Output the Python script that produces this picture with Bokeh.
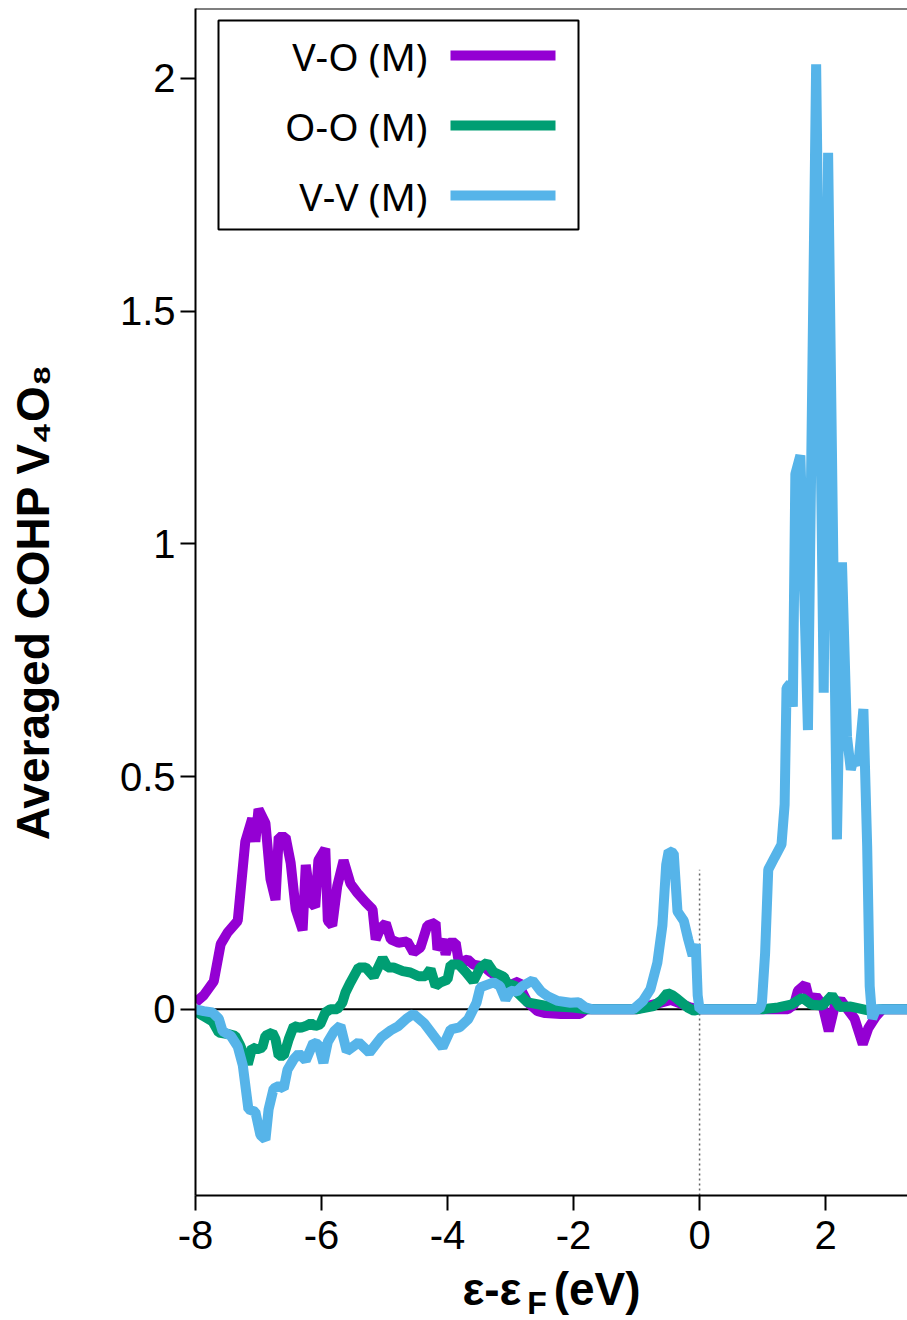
from bokeh.plotting import figure
from bokeh.models import Range1d, FixedTicker, Span, Label, BoxAnnotation, LinearAxis
from bokeh.embed import file_html
from bokeh.resources import INLINE

# ---------------- data ----------------
e_vo = [-8.0, -7.87, -7.71, -7.6, -7.49, -7.33, -7.21, -7.1, -7.05, -7.0, -6.89, -6.81,
        -6.73, -6.68, -6.57, -6.49, -6.41, -6.3, -6.25, -6.17, -6.1, -6.05, -5.94, -5.9,
        -5.83, -5.75, -5.65, -5.54, -5.43, -5.3, -5.19, -5.14, -5.06, -4.98, -4.9, -4.78,
        -4.64, -4.54, -4.43, -4.32, -4.19, -4.16, -4.08, -4.03, -3.98, -3.87, -3.82, -3.68,
        -3.59, -3.43, -3.32, -3.21, -3.11, -3.05, -2.87, -2.81, -2.73, -2.57, -2.45, -2.2,
        -1.9, -1.8, -1.0, -0.8, -0.6, -0.45, -0.3, -0.15, 0.0, 1.0, 1.4, 1.5, 1.56, 1.68,
        1.75, 1.85, 1.95, 2.05, 2.15, 2.24, 2.32, 2.46, 2.59, 2.68, 2.8, 2.9, 3.3]
cohp_vo = [0.015, 0.03, 0.06, 0.14, 0.165, 0.19, 0.36, 0.41, 0.36, 0.43, 0.40, 0.28,
           0.235, 0.37, 0.37, 0.315, 0.215, 0.17, 0.31, 0.23, 0.22, 0.32, 0.345, 0.19,
           0.18, 0.265, 0.32, 0.27, 0.25, 0.23, 0.215, 0.15, 0.175, 0.185, 0.15, 0.143,
           0.146, 0.122, 0.133, 0.18, 0.186, 0.128, 0.15, 0.118, 0.143, 0.143, 0.10, 0.107,
           0.096, 0.092, 0.08, 0.07, 0.07, 0.05, 0.06, 0.036, 0.015, -0.004, -0.008, -0.01,
           -0.01, 0.0, 0.0, 0.008, 0.015, 0.02, 0.012, 0.004, 0.0, 0.0, 0.0, 0.01, 0.04, 0.054,
           0.017, 0.028, 0.01, -0.047, 0.01, 0.02, 0.005, -0.02, -0.075, -0.04, -0.015, 0.0, 0.0]

e_oo = [-8.0, -7.87, -7.73, -7.63, -7.49, -7.37, -7.29, -7.17, -7.1, -7.02, -6.94, -6.89,
        -6.78, -6.73, -6.68, -6.6, -6.52, -6.44, -6.33, -6.25, -6.17, -6.1, -6.02, -5.94,
        -5.86, -5.75, -5.67, -5.62, -5.54, -5.41, -5.3, -5.17, -5.03, -4.95, -4.86, -4.71,
        -4.59, -4.46, -4.35, -4.27, -4.19, -4.11, -4.0, -3.95, -3.82, -3.71, -3.59, -3.48,
        -3.37, -3.27, -3.11, -3.03, -2.95, -2.89, -2.73, -2.41, -2.0, -1.8, -1.0, -0.73,
        -0.6, -0.51, -0.43, -0.35, -0.19, -0.09, 0.0, 1.0, 1.25, 1.45, 1.63, 1.78, 1.95,
        2.1, 2.22, 2.4, 2.6, 2.73, 2.85, 3.3]
cohp_oo = [-0.004, -0.015, -0.026, -0.05, -0.053, -0.057, -0.078, -0.118, -0.082, -0.086,
           -0.082, -0.057, -0.05, -0.064, -0.10, -0.10, -0.064, -0.036, -0.04, -0.036, -0.03,
           -0.036, -0.032, -0.007, 0.0, 0.0, 0.014, 0.036, 0.058, 0.09, 0.09, 0.07, 0.11,
           0.09, 0.09, 0.082, 0.079, 0.071, 0.071, 0.086, 0.05, 0.058, 0.064, 0.096, 0.096,
           0.08, 0.06, 0.09, 0.10, 0.08, 0.07, 0.05, 0.054, 0.036, 0.015, 0.007, 0.004, 0.0,
           0.0, 0.007, 0.02, 0.035, 0.03, 0.022, 0.004, -0.003, 0.0, 0.0, 0.004, 0.01, 0.025,
           0.01, 0.008, 0.03, 0.005, 0.006, 0.0, -0.004, 0.0, 0.0]

e_vv = [-8.0, -7.87, -7.73, -7.63, -7.57, -7.44, -7.33, -7.25, -7.16, -7.05, -6.97, -6.89,
        -6.84, -6.76, -6.68, -6.6, -6.54, -6.44, -6.36, -6.25, -6.13, -6.05, -5.97, -5.9,
        -5.8, -5.7, -5.6, -5.41, -5.24, -5.05, -4.9, -4.78, -4.65, -4.54, -4.37, -4.22,
        -4.08, -3.95, -3.81, -3.67, -3.54, -3.48, -3.27, -3.17, -3.08, -3.0, -2.9, -2.81,
        -2.65, -2.52, -2.41, -2.25, -2.05, -1.92, -1.81, -1.7, -1.05, -0.9, -0.78, -0.67,
        -0.59, -0.53, -0.49, -0.41, -0.35, -0.25, -0.18, -0.11, -0.06, -0.03, 0.0, 0.95,
        0.99, 1.04, 1.09, 1.19, 1.3, 1.35, 1.38, 1.44, 1.48, 1.52, 1.6, 1.72, 1.85, 1.97,
        2.04, 2.18, 2.26, 2.34, 2.4, 2.45, 2.52, 2.6, 2.66, 2.7, 2.74, 2.8, 3.3]
cohp_vv = [0.0, -0.004, -0.007, -0.02, -0.047, -0.057, -0.08, -0.12, -0.215, -0.22, -0.27,
           -0.28, -0.215, -0.17, -0.165, -0.17, -0.13, -0.107, -0.095, -0.11, -0.072, -0.075,
           -0.115, -0.07, -0.047, -0.035, -0.09, -0.071, -0.093, -0.06, -0.045, -0.036, -0.02,
           -0.01, -0.03, -0.057, -0.082, -0.043, -0.039, -0.021, 0.014, 0.047, 0.058, 0.05,
           0.021, 0.04, 0.038, 0.05, 0.062, 0.039, 0.028, 0.018, 0.014, 0.015, 0.004, 0.0,
           0.0, 0.018, 0.043, 0.1, 0.18, 0.31, 0.34, 0.335, 0.21, 0.19, 0.15, 0.115, 0.14,
           0.03, 0.0, 0.0, 0.015, 0.12, 0.30, 0.326, 0.354, 0.44, 0.69, 0.70, 0.65, 1.15,
           1.19, 0.60, 2.03, 0.68, 1.84, 0.365, 0.96, 0.585, 0.515, 0.54, 0.525, 0.645, 0.35,
           0.05, -0.02, 0.0, 0.0]

series_labels = ["V-O (M)", "O-O (M)", "V-V (M)"]
series_colors = ["#9400D3", "#009E73", "#56B4E9"]

x_ticks = [-8, -6, -4, -2, 0, 2]
x_tick_labels = ["-8", "-6", "-4", "-2", "0", "2"]
y_ticks = [0, 0.5, 1, 1.5, 2]
y_tick_labels = ["0", "0.5", "1", "1.5", "2"]
fermi_line_top = 0.3

x_title_main = "\u03b5-\u03b5\u2002\u2009(eV)"
x_title_sub = "F\u2002\u2009\u2009"
y_title = "Averaged COHP V\u2084O\u2088"

# ---------------- figure ----------------
p = figure(frame_width=712, frame_height=1187,
           x_range=Range1d(-8, 3.3), y_range=Range1d(-0.4, 2.15),
           output_backend="svg", toolbar_location=None,
           min_border_left=195, min_border_right=0, min_border_top=8, min_border_bottom=125)
p.outline_line_color = None
p.grid.visible = False
p.background_fill_color = "white"
p.border_fill_color = "white"

for ax, ticks, labels in ((p.xaxis[0], x_ticks, x_tick_labels), (p.yaxis[0], y_ticks, y_tick_labels)):
    ax.ticker = FixedTicker(ticks=ticks)
    ax.major_label_overrides = {t: l for t, l in zip(ticks, labels)}
    ax.axis_line_color = "black"
    ax.axis_line_width = 2
    ax.major_tick_line_width = 2
    ax.major_tick_out = 15
    ax.major_tick_in = 0
    ax.minor_tick_line_color = None
    ax.major_label_text_font = "Liberation Sans"
    ax.major_label_text_font_size = "40px"
    ax.major_label_text_color = "black"
    ax.axis_label_text_font = "Liberation Sans"
    ax.axis_label_text_font_style = "bold"
    ax.axis_label_text_color = "black"
p.xaxis.major_label_standoff = 10
p.yaxis.major_label_standoff = 5

p.xaxis.axis_label = x_title_main
p.xaxis.axis_label_text_font_size = "46px"
p.xaxis.axis_label_standoff = 11

p.yaxis.axis_label = y_title
p.yaxis.axis_label_text_font_size = "46px"
p.yaxis.axis_label_standoff = 58

# second (invisible) axis below that only carries the subscript "F"
sub_axis = LinearAxis(ticker=FixedTicker(ticks=[]), axis_line_color=None,
                      major_tick_line_color=None, minor_tick_line_color=None,
                      major_label_text_font_size="0px",
                      axis_label=x_title_sub, axis_label_text_font="Liberation Sans",
                      axis_label_text_font_style="bold", axis_label_text_font_size="32px",
                      axis_label_text_color="black", axis_label_standoff=-33)
p.add_layout(sub_axis, "below")

# top spine and zero line
p.add_layout(Span(location=2.15, dimension="width", line_color="black", line_width=2))
p.add_layout(Span(location=0, dimension="width", line_color="black", line_width=2, level="underlay"))

# Fermi level marker
p.segment(x0=[0], y0=[-0.4], x1=[0], y1=[fermi_line_top], line_color="#666666",
          line_width=1.5, line_dash="2 3")

for xs, ys, c in ((e_vo, cohp_vo, series_colors[0]), (e_oo, cohp_oo, series_colors[1]),
                  (e_vv, cohp_vv, series_colors[2])):
    p.line(xs, ys, line_color=c, line_width=10)

# ---------------- legend (manual: label left, sample right) ----------------
def cbox(left, right, top, bottom, **kw):
    p.add_layout(BoxAnnotation(left=left, right=right, top=top, bottom=bottom,
                               left_units="canvas", right_units="canvas",
                               top_units="canvas", bottom_units="canvas",
                               fill_alpha=1.0, line_alpha=1.0, level="overlay", **kw))

cbox(218, 578, 20, 229, fill_color="white", line_color="black", line_width=2)
row_y = [55, 125, 195]
for lab_txt, c, yy in zip(series_labels, series_colors, row_y):
    cbox(450, 555, yy - 5, yy + 5, fill_color=c, line_color=None)
    p.add_layout(Label(x=427, y=yy, x_units="canvas", y_units="canvas", text=lab_txt,
                       text_align="right", text_baseline="middle",
                       text_font="Noto Sans", text_font_size="39px", text_color="black",
                       level="overlay"))

open("out.html", "w").write(file_html(p, INLINE))
